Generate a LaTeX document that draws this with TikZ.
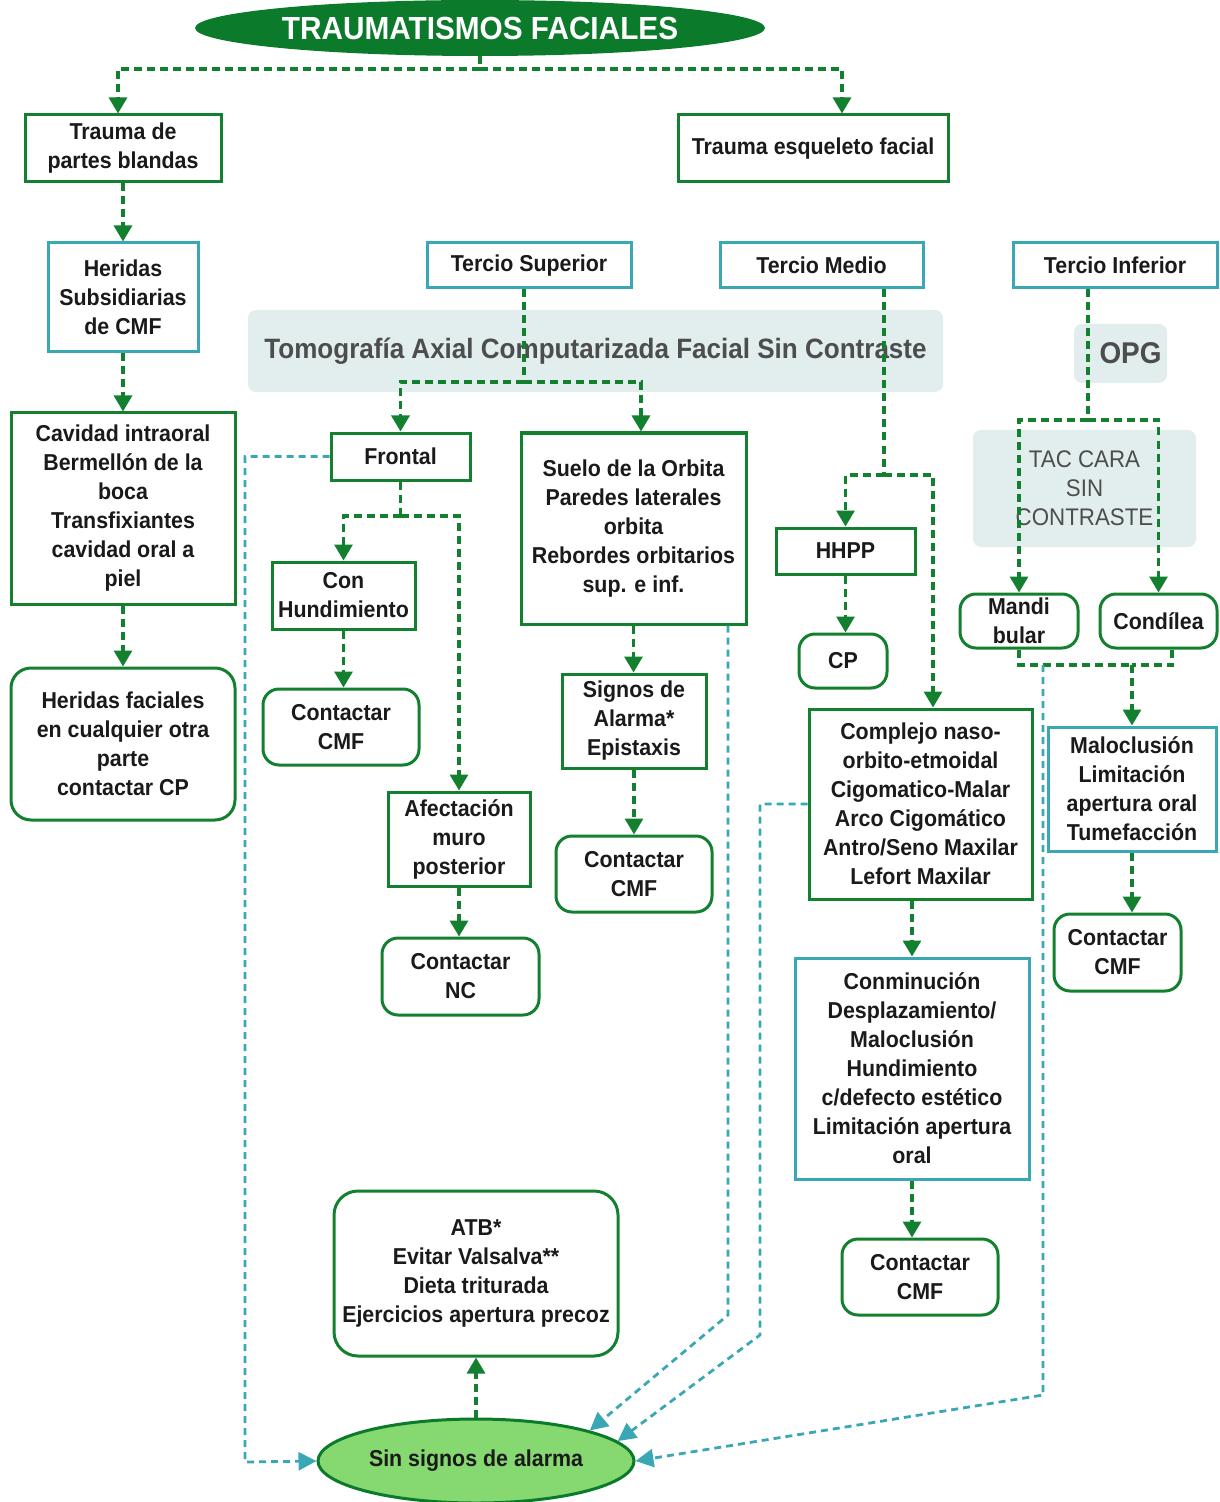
\documentclass[tikz,border=0pt]{standalone}
\usepackage{fontspec}
\setmainfont[FakeStretch=0.93]{Liberation Sans}
\usetikzlibrary{arrows.meta,shapes.geometric,calc}
\definecolor{gcol}{HTML}{13802F}
\definecolor{gdark}{HTML}{0B7A2A}
\definecolor{tcol}{HTML}{3AA8B4}
\definecolor{bgc}{HTML}{E2EEEE}
\definecolor{lgreen}{HTML}{86D870}
\definecolor{txt}{HTML}{1A1A1A}
\definecolor{graytxt}{HTML}{4D4D4D}
\begin{document}
\begin{tikzpicture}[x=0.5pt,y=-0.5pt,
 every node/.style={font=\fontsize{11.5}{14.5}\selectfont\bfseries, text=txt, align=center, inner sep=0pt},
 sz/.style 2 args={minimum width=#1pt, minimum height=#2pt},
 gbox/.style={draw=gcol, line width=1.5pt, fill=white},
 grbox/.style={gbox, rounded corners=8pt},
 tbox/.style={draw=tcol, line width=1.5pt, fill=white},
 bgbox/.style={fill=bgc, rounded corners=4pt},
 gline/.style={draw=gcol, line width=1.6pt, dash pattern=on 4pt off 2.5pt},
 garrow/.style={gline, -{Triangle[width=9pt,length=8pt]}},
 tline/.style={draw=tcol, line width=1.4pt, dash pattern=on 3.5pt off 2.5pt},
 tarrow/.style={tline, -{Triangle[width=9pt,length=9pt]}},
]
\useasboundingbox (0,0) rectangle (1219,1502);

% background label boxes
\node[bgbox, sz={347.5}{41}, font=\fontsize{14}{16}\selectfont\bfseries, text=graytxt] (tac) at (595.5,351) {Tomografía Axial Computarizada Facial Sin Contraste};
\node[bgbox, sz={46.5}{29.5}, font=\fontsize{15}{17}\selectfont\bfseries, text=graytxt] (opg) at (1120.5,353.5) {\hspace*{10pt}OPG};
\node[bgbox, sz={111.5}{58.5}, font=\fontsize{12}{14.5}\selectfont\mdseries, text=graytxt] (tacc) at (1084.5,488.5) {TAC CARA\\SIN\\CONTRASTE};

% title
\node[ellipse, fill=gdark, minimum width=285pt, minimum height=28pt, text=white, font=\fontsize{16}{19}\selectfont\bfseries] (title) at (480,28) {TRAUMATISMOS FACIALES};

% left branch
\node[gbox, sz={98}{33.5}] (tpb) at (123,148.5) {Trauma de\\partes blandas};
\node[gbox, sz={135}{33.5}] (tef) at (813,148.5) {Trauma esqueleto facial};
\node[tbox, sz={75}{54.5}] (hs) at (123,297.5) {Heridas\\Subsidiarias\\de CMF};
\node[gbox, sz={112}{95.5}] (ci) at (123,508.5) {Cavidad intraoral\\Bermellón de la\\boca\\Transfixiantes\\cavidad oral a\\piel};
\node[grbox, sz={112}{76}, rounded corners=10pt] (hf) at (123,744) {Heridas faciales\\en cualquier otra\\parte\\contactar CP};

% tercios
\node[tbox, sz={102}{22.5}] (ts) at (529,265.5) {Tercio Superior};
\node[tbox, sz={101.5}{22.5}] (tm) at (821.5,265.5) {Tercio Medio};
\node[tbox, sz={102}{22.5}] (ti) at (1115,265.5) {Tercio Inferior};

% tercio superior
\node[gbox, sz={69.5}{23.5}] (fr) at (400.5,456.5) {Frontal};
\node[gbox, sz={112.5}{95.5}] (so) at (633.5,528.5) {Suelo de la Orbita\\Paredes laterales\\orbita\\Rebordes orbitarios\\sup. e inf.};
\node[gbox, sz={71.5}{33.5}] (ch) at (343.5,595.5) {Con\\Hundimiento};
\node[grbox, sz={78}{38}] (cc1) at (341,727) {Contactar\\CMF};
\node[gbox, sz={71}{47}] (am) at (459,839) {Afectación\\muro\\posterior};
\node[grbox, sz={78.5}{38.5}] (cnc) at (460.5,976.5) {Contactar\\NC};
\node[gbox, sz={72}{47}] (sa) at (634,721) {Signos de\\Alarma*\\Epistaxis};
\node[grbox, sz={78}{38}] (cc2) at (634,874) {Contactar\\CMF};

% tercio medio
\node[gbox, sz={69.5}{23}] (hh) at (845.5,551) {HHPP};
\node[grbox, sz={44}{27}] (cp) at (843,661) {CP};
\node[gbox, sz={111.5}{95}] (cn) at (920.5,804) {Complejo naso-\\orbito-etmoidal\\Cigomatico-Malar\\Arco Cigomático\\Antro/Seno Maxilar\\Lefort Maxilar};
\node[tbox, sz={117}{110.5}] (cm) at (912,1068.5) {Conminución\\Desplazamiento/\\Maloclusión\\Hundimiento\\c/defecto estético\\Limitación apertura\\oral};
\node[grbox, sz={78}{38}] (cc3) at (920,1277) {Contactar\\CMF};

% tercio inferior
\node[grbox, sz={59}{27}] (mb) at (1019,621) {Mandi\\bular};
\node[grbox, sz={58.5}{27}] (co) at (1158.5,621) {Condílea};
\node[tbox, sz={84}{62}] (ml) at (1132,789) {Maloclusión\\Limitación\\apertura oral\\Tumefacción};
\node[grbox, sz={63.5}{38.5}] (cc4) at (1117.5,952.5) {Contactar\\CMF};

% bottom
\node[grbox, sz={142}{82.5}, rounded corners=12pt] (atb) at (476,1273.5) {ATB*\\Evitar Valsalva**\\Dieta triturada\\Ejercicios apertura precoz};
\node[ellipse, draw=gdark, line width=1.5pt, fill=lgreen, minimum width=158pt, minimum height=42pt] (ssa) at (476,1461) {Sin signos de alarma};

% green connectors
\coordinate (j1) at (480,69);
\draw[gline] (title.south) -- (j1);
\draw[garrow] (j1) -| ([xshift=-2.5pt]tpb.north);
\draw[garrow] (j1) -| ([xshift=14.5pt]tef.north);
\draw[garrow] (tpb.south) -- (hs.north);
\draw[garrow] (hs.south) -- (ci.north);
\draw[garrow] (ci.south) -- (hf.north);

\coordinate (j2) at (524,382);
\draw[gline] ([xshift=-2.5pt]ts.south) -- (j2);
\draw[garrow] (j2) -| (fr.north);
\draw[garrow] (j2) -| ([xshift=3.75pt]so.north);
\coordinate (j3) at (400.5,516);
\draw[gline] (fr.south) -- (j3);
\draw[garrow] (j3) -| (ch.north);
\draw[garrow] (j3) -| (am.north);
\draw[garrow] (ch.south) -- (ch.south |- cc1.north);
\draw[garrow] (am.south) -- (am.south |- cnc.north);
\draw[garrow] (so.south) -- (so.south |- sa.north);
\draw[garrow] (sa.south) -- (sa.south |- cc2.north);

\coordinate (j4) at (884,475);
\draw[gline] ([xshift=31.25pt]tm.south) -- (j4);
\draw[garrow] (j4) -| (hh.north);
\draw[garrow] (j4) -| ([xshift=6.25pt]cn.north);
\draw[garrow] (hh.south) -- (hh.south |- cp.north);
\draw[garrow] (cm.north |- cn.south) -- (cm.north);
\draw[garrow] (cm.south) -- (cm.south |- cc3.north);

\coordinate (j5) at (1088,420);
\draw[gline] ([xshift=-13.5pt]ti.south) -- (j5);
\draw[garrow] (j5) -| (mb.north);
\draw[garrow] (j5) -| (co.north);
\coordinate (j6) at (1132,665);
\draw[gline] (mb.south) |- (j6);
\draw[gline] ([xshift=6.75pt]co.south) |- (j6);
\draw[garrow] (j6) -- (ml.north);
\draw[garrow] (ml.south) -- (ml.south |- cc4.north);
\draw[garrow] (ssa.north) -- (atb.south);

% teal connectors
\coordinate (t1) at (245,1462);
\draw[tarrow] (fr.west) -| (t1) -- (ssa.west);
\coordinate (t2) at (728,1315);
\draw[tarrow] ([xshift=47.25pt]so.south) -- (t2) -- (ssa.15);
\coordinate (t3) at (760,1335);
\draw[tarrow] (cn.west) -| (t3) -- (ssa.8);
\coordinate (t4) at (1043,665);
\coordinate (t5) at (1043,1395);
\draw[tarrow] (t4) -- (t5) -- (ssa.east);
\end{tikzpicture}
\end{document}
